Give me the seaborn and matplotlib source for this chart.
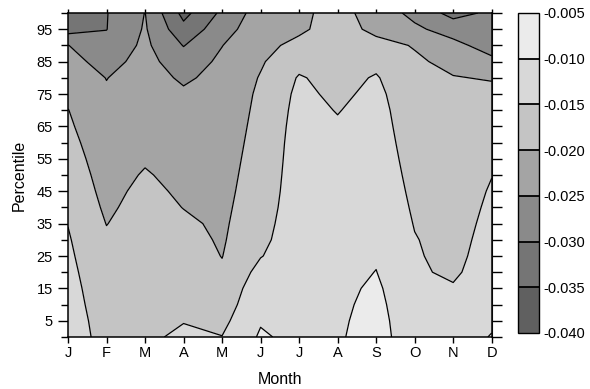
import numpy as np
import pandas as pd
import matplotlib
matplotlib.use("Agg")
import matplotlib.pyplot as plt
import seaborn as sns

# ---------------- data ----------------
month_labels = ["J", "F", "M", "A", "M", "J", "J", "A", "S", "O", "N", "D"]
month_pos = list(range(1, 13))
percentiles = list(range(0, 101, 5))

# values per month, from percentile 0 (bottom) to 100 (top)
jan = [-0.0120, -0.0125, -0.0130, -0.0134, -0.0138, -0.0142, -0.0146, -0.0151, -0.0158, -0.0165, -0.0172,
       -0.0179, -0.0186, -0.0193, -0.0199, -0.0210, -0.0223, -0.0236, -0.0249, -0.0320, -0.0330]
feb = [-0.0170, -0.0172, -0.0175, -0.0178, -0.0182, -0.0187, -0.0193, -0.0201, -0.0208, -0.0214, -0.0219,
       -0.0224, -0.0229, -0.0234, -0.0239, -0.0245, -0.0251, -0.0265, -0.0285, -0.0301, -0.0302]
mar = [-0.0160, -0.0162, -0.0164, -0.0166, -0.0168, -0.0171, -0.0174, -0.0178, -0.0182, -0.0188, -0.0196,
       -0.0205, -0.0212, -0.0218, -0.0222, -0.0226, -0.0230, -0.0235, -0.0240, -0.0245, -0.0249]
apr = [-0.0140, -0.0152, -0.0160, -0.0167, -0.0173, -0.0179, -0.0185, -0.0192, -0.0201, -0.0208, -0.0214,
       -0.0219, -0.0224, -0.0229, -0.0235, -0.0243, -0.0257, -0.0275, -0.0302, -0.0335, -0.0365]
may = [-0.0149, -0.0162, -0.0175, -0.0185, -0.0194, -0.0201, -0.0205, -0.0208, -0.0211, -0.0214, -0.0217,
       -0.0220, -0.0223, -0.0226, -0.0229, -0.0232, -0.0236, -0.0241, -0.0251, -0.0270, -0.0290]
jun = [-0.0094, -0.0104, -0.0112, -0.0120, -0.0135, -0.0152, -0.0160, -0.0165, -0.0170, -0.0174, -0.0177,
       -0.0180, -0.0183, -0.0186, -0.0189, -0.0192, -0.0197, -0.0205, -0.0213, -0.0220, -0.0226]
jul = [-0.0113, -0.0119, -0.0120, -0.0121, -0.0122, -0.0123, -0.0124, -0.0125, -0.0126, -0.0127, -0.0128,
       -0.0129, -0.0130, -0.0132, -0.0135, -0.0139, -0.0146, -0.0165, -0.0188, -0.0208, -0.0212]
aug = [-0.0108, -0.0110, -0.0112, -0.0114, -0.0116, -0.0118, -0.0120, -0.0122, -0.0124, -0.0126, -0.0129,
       -0.0133, -0.0138, -0.0145, -0.0152, -0.0160, -0.0166, -0.0172, -0.0176, -0.0179, -0.0180]
sep = [-0.0070, -0.0077, -0.0084, -0.0091, -0.0099, -0.0105, -0.0109, -0.0112, -0.0115, -0.0118, -0.0121,
       -0.0124, -0.0127, -0.0130, -0.0133, -0.0138, -0.0146, -0.0162, -0.0185, -0.0212, -0.0225]
oct_ = [-0.0145, -0.0143, -0.0143, -0.0143, -0.0144, -0.0146, -0.0148, -0.0152, -0.0156, -0.0160, -0.0164,
        -0.0168, -0.0172, -0.0176, -0.0180, -0.0184, -0.0188, -0.0193, -0.0203, -0.0242, -0.0262]
nov = [-0.0136, -0.0138, -0.0141, -0.0146, -0.0157, -0.0162, -0.0165, -0.0168, -0.0171, -0.0174, -0.0177,
       -0.0180, -0.0183, -0.0186, -0.0189, -0.0193, -0.0198, -0.0212, -0.0238, -0.0268, -0.0318]
dec = [-0.0096, -0.0112, -0.0118, -0.0122, -0.0126, -0.0130, -0.0134, -0.0138, -0.0142, -0.0146, -0.0151,
       -0.0158, -0.0165, -0.0172, -0.0180, -0.0189, -0.0203, -0.0240, -0.0268, -0.0280, -0.0290]

levels = [-0.040, -0.035, -0.030, -0.025, -0.020, -0.015, -0.010, -0.005]
level_labels = ["-0.040", "-0.035", "-0.030", "-0.025", "-0.020", "-0.015", "-0.010", "-0.005"]
ytick_major = [5, 15, 25, 35, 45, 55, 65, 75, 85, 95]

# ---------------- style ----------------
sns.set_style("ticks")
plt.rcParams["font.family"] = ["Liberation Sans", "DejaVu Sans"]
plt.rcParams["axes.unicode_minus"] = False
plt.rcParams["text.color"] = "black"
plt.rcParams["axes.labelcolor"] = "black"
plt.rcParams["xtick.color"] = "black"
plt.rcParams["ytick.color"] = "black"
plt.rcParams["xtick.labelcolor"] = "black"
plt.rcParams["ytick.labelcolor"] = "black"

band_colors = sns.color_palette(["#606060", "#757575", "#8a8a8a", "#a4a4a4",
                                 "#c4c4c4", "#d8d8d8", "#ebebeb"])

df = pd.DataFrame({m: v for m, v in zip(month_pos, [jan, feb, mar, apr, may, jun, jul,
                                                   aug, sep, oct_, nov, dec])},
                  index=percentiles)

X, Y = np.meshgrid(df.columns.values, df.index.values)
Z = df.values

fig = plt.figure(figsize=(5.90, 3.89), dpi=100)
ax = fig.add_axes([68 / 590, 52 / 389, 423.7 / 590, 324 / 389])
cax = fig.add_axes([518 / 590, 56 / 389, 21 / 590, 320 / 389])

cf = ax.contourf(X, Y, Z, levels=levels, colors=band_colors)
cs = ax.contour(X, Y, Z, levels=levels, colors="black", linewidths=0.9,
                linestyles="solid")

ax.set_xlim(1, 12)
ax.set_ylim(0, 100)
ax.set_xticks(month_pos)
ax.set_xticklabels(month_labels)
ax.set_yticks(ytick_major)
ax.set_yticks(list(range(0, 101, 10)), minor=True)
ax.tick_params(axis="both", which="major", labelsize=10.5, width=1, color="black",
               labelcolor="black")
ax.tick_params(axis="x", which="major", length=4.3, pad=2)
ax.tick_params(axis="y", which="major", length=7, pad=4)
ax.tick_params(axis="y", which="minor", length=5, width=1, left=True, color="black")
for sp in ax.spines.values():
    sp.set_linewidth(1.1)
    sp.set_color("black")
    sp.set_visible(True)

top = ax.secondary_xaxis("top")
top.set_xticks(month_pos)
top.tick_params(axis="x", length=3, width=1, labeltop=False, color="black")
right = ax.secondary_yaxis("right")
right.set_yticks(list(range(0, 101, 5)))
right.tick_params(axis="y", length=7, width=1, labelright=False, color="black")

ax.set_xlabel("Month", fontsize=11.5, labelpad=9, color="black")
ax.set_ylabel("Percentile", fontsize=11.5, labelpad=7, color="black")

cbar = fig.colorbar(cf, cax=cax, ticks=levels, drawedges=True)
cbar.ax.set_yticklabels(level_labels)
cbar.ax.tick_params(length=0, labelsize=10.5, pad=3, labelcolor="black")
cbar.outline.set_linewidth(1.0)
cbar.outline.set_edgecolor("black")
cbar.dividers.set_linewidth(1.3)
cbar.dividers.set_color("black")

fig.savefig("out.png", dpi=100)
